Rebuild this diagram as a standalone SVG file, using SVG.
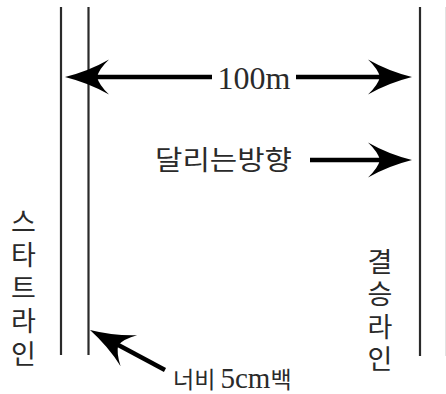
<svg xmlns="http://www.w3.org/2000/svg" xmlns:xlink="http://www.w3.org/1999/xlink" width="446" height="394" viewBox="0 0 446 394">
  <style>
    .lane { stroke: #2a2a2a; stroke-width: 2.2; fill: none; }
    .shaft { stroke: #000; stroke-width: 4.5; fill: none; }
    .head { fill: #000; }
    .ko { font-family: "Noto Sans CJK KR", sans-serif; fill: #2a2a2a; }
    .lat { font-family: "Liberation Serif", "Noto Sans CJK KR", serif; fill: #2a2a2a; }
    .vert { writing-mode: vertical-rl; text-orientation: upright; font-size: 27px; }
  </style>
  <defs>
    <path id="ah" d="M0,0 Q-24,-6 -44,-17.5 Q-34,-8 -32,0 Q-34,8 -44,17.5 Q-24,6 0,0 Z"/>
  </defs>
  <rect width="446" height="394" fill="#fff"/>

  <g id="start-line-outer">
    <line class="lane" x1="61" y1="7" x2="61" y2="355"/>
  </g>
  <g id="start-line-inner">
    <line class="lane" x1="88.5" y1="7" x2="88.5" y2="355"/>
  </g>
  <g id="finish-line">
    <line class="lane" x1="420" y1="7" x2="420" y2="356"/>
  </g>
  <g id="edge">
    <line x1="445.5" y1="7" x2="445.5" y2="356" stroke="#e2e2e2" stroke-width="1"/>
  </g>

  <g id="connectors">
    <g id="dim-100m">
      <line class="shaft" x1="95" y1="77" x2="212" y2="77"/>
      <line class="shaft" x1="296" y1="77" x2="382" y2="77"/>
      <use xlink:href="#ah" class="head" transform="translate(65,77) rotate(180)"/>
      <use xlink:href="#ah" class="head" transform="translate(412,77)"/>
    </g>
    <g id="run-direction">
      <line class="shaft" x1="310" y1="160" x2="382" y2="160"/>
      <use xlink:href="#ah" class="head" transform="translate(412,160)"/>
    </g>
    <g id="width-pointer">
      <line class="shaft" x1="165" y1="370" x2="115" y2="343.3"/>
      <use xlink:href="#ah" class="head" transform="translate(90,330) rotate(208.07)"/>
    </g>
  </g>

  <g id="label-100m">
    <text class="lat" x="254" y="89" font-size="32" text-anchor="middle">100m</text>
  </g>
  <g id="label-direction">
    <text class="ko" x="155" y="170" font-size="27" textLength="137" lengthAdjust="spacingAndGlyphs">달리는방향</text>
  </g>
  <g id="label-start">
    <text class="ko vert" x="23.5" y="208">스</text>
    <text class="ko vert" x="23.5" y="241">타</text>
    <text class="ko vert" x="23.5" y="274">트</text>
    <text class="ko vert" x="23.5" y="307">라</text>
    <text class="ko vert" x="23.5" y="340">인</text>
  </g>
  <g id="label-finish">
    <text class="ko vert" x="380" y="248">결</text>
    <text class="ko vert" x="380" y="280.5">승</text>
    <text class="ko vert" x="380" y="313">라</text>
    <text class="ko vert" x="380" y="345.5">인</text>
  </g>
  <g id="label-width">
    <text x="173" y="388"><tspan class="ko" font-size="23">너비 </tspan><tspan class="lat" font-size="29">5cm</tspan><tspan class="ko" font-size="23">백</tspan></text>
  </g>
</svg>
